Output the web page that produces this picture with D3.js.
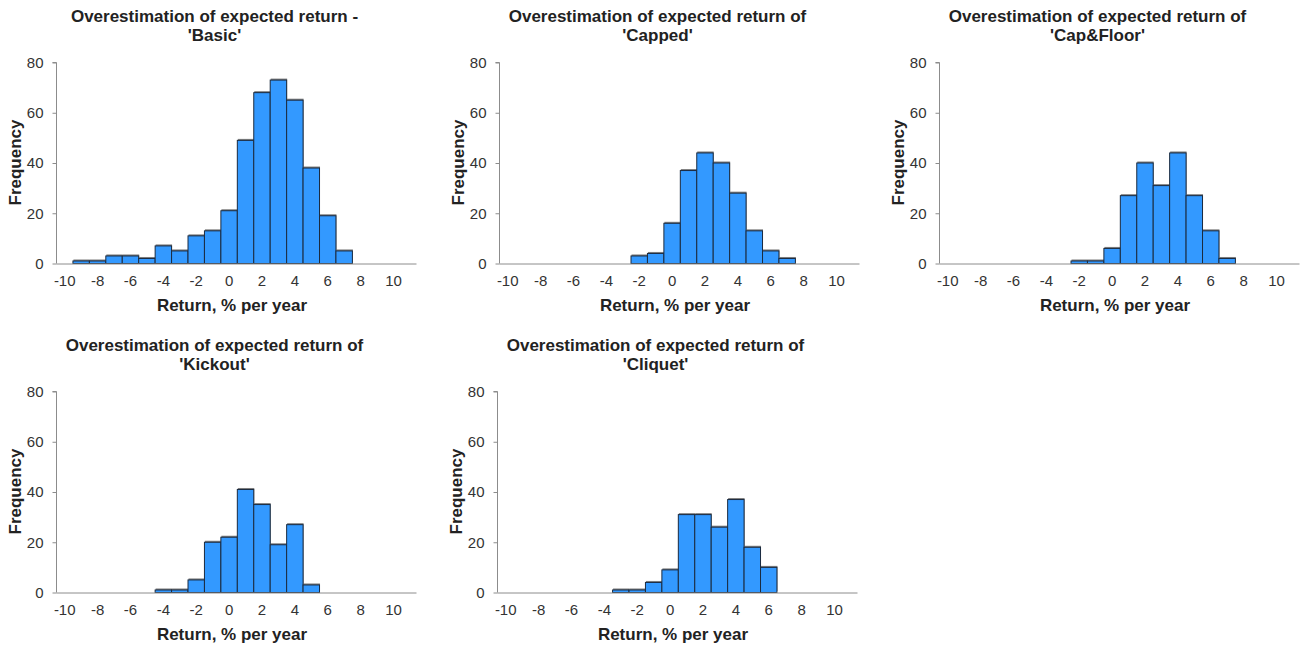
<!DOCTYPE html>
<html>
<head>
<meta charset="utf-8">
<script src="https://cdn.jsdelivr.net/npm/d3@7"></script>
<style>
  html, body { margin: 0; padding: 0; background: #fff; }
  svg { display: block; font-family: "Liberation Sans", Arial, sans-serif; }
  .tick text { font-size: 15px; font-family: "Liberation Sans", Arial, sans-serif; fill: #333; }
</style>
</head>
<body>
<svg id="chart" width="1302" height="645"></svg>
<script>
// Histogram bin centres (return, % per year) shared by every panel
const binCentres = [-10, -9, -8, -7, -6, -5, -4, -3, -2, -1, 0, 1, 2, 3, 4, 5, 6, 7, 8, 9, 10];

// Frequencies per bin for each product
const basicCounts     = [0, 1, 1, 3, 3, 2, 7, 5, 11, 13, 21, 49, 68, 73, 65, 38, 19, 5, 0, 0, 0];
const cappedCounts    = [0, 0, 0, 0, 0, 0, 0, 0, 3, 4, 16, 37, 44, 40, 28, 13, 5, 2, 0, 0, 0];
const capFloorCounts  = [0, 0, 0, 0, 0, 0, 0, 0, 1, 1, 6, 27, 40, 31, 44, 27, 13, 2, 0, 0, 0];
const kickoutCounts   = [0, 0, 0, 0, 0, 0, 1, 1, 5, 20, 22, 41, 35, 19, 27, 3, 0, 0, 0, 0, 0];
const cliquetCounts   = [0, 0, 0, 0, 0, 0, 0, 1, 1, 4, 9, 31, 31, 26, 37, 18, 10, 0, 0, 0, 0];

// Panel titles
const titleLines = [
  ["Overestimation of expected return -", "'Basic'"],
  ["Overestimation of expected return of", "'Capped'"],
  ["Overestimation of expected return of", "'Cap&Floor'"],
  ["Overestimation of expected return of", "'Kickout'"],
  ["Overestimation of expected return of", "'Cliquet'"]
];

// Axis ticks and labels
const xTickValues = [-10, -8, -6, -4, -2, 0, 2, 4, 6, 8, 10];
const yTickValues = [0, 20, 40, 60, 80];
const xAxisTitle = "Return, % per year";
const yAxisTitle = "Frequency";

const panelCounts = [basicCounts, cappedCounts, capFloorCounts, kickoutCounts, cliquetCounts];

// Panel placement: left edge of plot area and the y of the zero line
const panelFrames = [
  { left: 56,  base: 263 },
  { left: 499, base: 263 },
  { left: 939, base: 263 },
  { left: 56,  base: 592 },
  { left: 497, base: 592 }
];

const plotWidth = 360;
const plotHeight = 201;
const axisColor = "#8c8c8c";
const barFill = "#3399ff";
const barStroke = "#1b2b40";
const shadowColor = "#7f7f7f";

const svg = d3.select("#chart");

panelFrames.forEach((frame, i) => {
  const x = d3.scaleLinear().domain([-10.5, 11.4]).range([frame.left, frame.left + plotWidth]);
  const y = d3.scaleLinear().domain([0, 80]).range([frame.base, frame.base - plotHeight]);
  const g = svg.append("g");

  const bins = binCentres.map((c, k) => ({ c, n: panelCounts[i][k] })).filter(d => d.n > 0);

  // Bar shadows
  g.selectAll("rect.shadow").data(bins).join("rect")
    .attr("class", "shadow")
    .attr("x", d => x(d.c - 0.5) + 1)
    .attr("y", d => y(d.n) - 1)
    .attr("width", d => x(d.c + 0.5) - x(d.c - 0.5))
    .attr("height", d => y(0) - y(d.n))
    .attr("fill", shadowColor);

  // Bars
  g.selectAll("rect.bar").data(bins).join("rect")
    .attr("class", "bar")
    .attr("x", d => x(d.c - 0.5) + 0.5)
    .attr("y", d => y(d.n) + 0.5)
    .attr("width", d => x(d.c + 0.5) - x(d.c - 0.5))
    .attr("height", d => y(0) - y(d.n))
    .attr("fill", barFill)
    .attr("stroke", barStroke)
    .attr("stroke-width", 1);

  // Y axis
  const yAxis = d3.axisLeft(y).tickValues(yTickValues).tickSize(4).tickPadding(9);
  const ya = g.append("g").attr("transform", `translate(${frame.left + 0.5},0.5)`).call(yAxis);
  ya.attr("font-size", 15).attr("font-family", null);
  ya.select(".domain").attr("stroke", axisColor).attr("d", `M-4,${y(80)}H0V${y(0)}`);
  ya.selectAll(".tick line").attr("stroke", axisColor);
  ya.selectAll(".tick text").attr("font-size", 15);

  // X axis (labels only, no tick marks)
  const xAxis = d3.axisBottom(x).tickValues(xTickValues).tickSize(0).tickPadding(12).tickFormat(d3.format("d"));
  const xa = g.append("g").attr("transform", `translate(0,${frame.base + 0.5})`).call(xAxis);
  xa.attr("font-size", 15).attr("font-family", null);
  xa.select(".domain").attr("stroke", axisColor);
  xa.selectAll(".tick text").attr("font-size", 15)
    .text(d => d < 0 ? "-" + Math.abs(d) : String(d));

  // Title
  const title = g.append("text")
    .attr("text-anchor", "middle")
    .attr("font-weight", "bold")
    .attr("font-size", 17)
    .attr("fill", "#222");
  titleLines[i].forEach((line, k) => {
    title.append("tspan")
      .attr("x", frame.left + 158.5)
      .attr("y", frame.base - 241 + k * 19)
      .text(line);
  });

  // Axis titles
  g.append("text")
    .attr("x", frame.left + 176)
    .attr("y", frame.base + 48)
    .attr("text-anchor", "middle")
    .attr("font-weight", "bold")
    .attr("font-size", 17)
    .attr("fill", "#222")
    .text(xAxisTitle);

  g.append("text")
    .attr("transform", `translate(${frame.left - 35},${frame.base - plotHeight / 2}) rotate(-90)`)
    .attr("text-anchor", "middle")
    .attr("font-weight", "bold")
    .attr("font-size", 17)
    .attr("fill", "#222")
    .text(yAxisTitle);
});
</script>
</body>
</html>
